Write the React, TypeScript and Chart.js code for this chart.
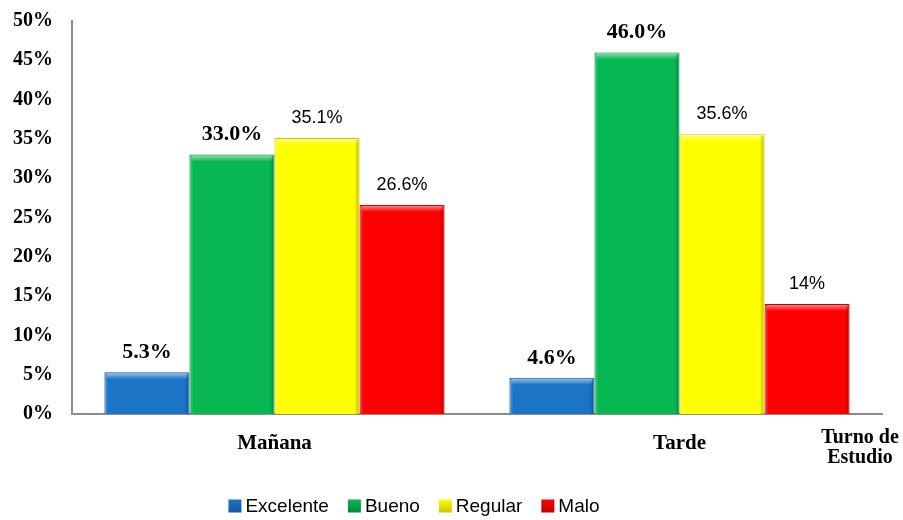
import React, { useEffect, useRef } from 'react';
import { Chart, registerables } from 'chart.js';

Chart.register(...registerables);

const categories = ['Mañana', 'Tarde'];
const seriesNames = ['Excelente', 'Bueno', 'Regular', 'Malo'];
const excelente = [5.3, 4.6];
const bueno = [33.0, 46.0];
const regular = [35.1, 35.6];
const malo = [26.6, 14];
const excelenteLabels = ['5.3%', '4.6%'];
const buenoLabels = ['33.0%', '46.0%'];
const regularLabels = ['35.1%', '35.6%'];
const maloLabels = ['26.6%', '14%'];
const axisTitleLines = ['Turno de', 'Estudio'];

const seriesColors = ['#1C74C6', '#07B852', '#FFFF00', '#FF0000'];
const seriesBorders = ['#135A9C', '#058A3C', '#C8C800', '#C00000'];
const serifFont = '"Liberation Serif", "Times New Roman", serif';
const sansFont = '"Liberation Sans", Arial, sans-serif';

const valueLabels = [excelenteLabels, buenoLabels, regularLabels, maloLabels];
const labelBold = [true, true, false, false];

const bevelPlugin = {
  id: 'bevel',
  afterDatasetsDraw(chart: any) {
    const ctx = chart.ctx;
    chart.data.datasets.forEach((ds: any, di: number) => {
      const meta = chart.getDatasetMeta(di);
      meta.data.forEach((bar: any) => {
        const { x, y, base, width } = bar.getProps(['x', 'y', 'base', 'width'], true);
        const l = x - width / 2;
        const r = x + width / 2;
        const h = base - y;
        ctx.save();
        const g = ctx.createLinearGradient(0, y, 0, y + 7);
        g.addColorStop(0, 'rgba(255,255,255,0.6)');
        g.addColorStop(1, 'rgba(255,255,255,0)');
        ctx.fillStyle = g;
        ctx.fillRect(l + 2, y + 1, width - 4, Math.min(7, h - 1));
        const gl = ctx.createLinearGradient(l, 0, l + 4, 0);
        gl.addColorStop(0, 'rgba(255,255,255,0.25)');
        gl.addColorStop(1, 'rgba(255,255,255,0)');
        ctx.fillStyle = gl;
        ctx.fillRect(l + 1, y + 2, 4, h - 2);
        const gr = ctx.createLinearGradient(r - 5, 0, r, 0);
        gr.addColorStop(0, 'rgba(0,0,0,0)');
        gr.addColorStop(1, 'rgba(0,0,0,0.28)');
        ctx.fillStyle = gr;
        ctx.fillRect(r - 5, y + 2, 4, h - 2);
        ctx.restore();
      });
    });
  },
};

const labelsPlugin = {
  id: 'valueLabels',
  afterDraw(chart: any) {
    const ctx = chart.ctx;
    ctx.save();
    ctx.fillStyle = '#000';
    ctx.textAlign = 'center';
    ctx.textBaseline = 'middle';
    chart.data.datasets.forEach((ds: any, di: number) => {
      const meta = chart.getDatasetMeta(di);
      ctx.font = labelBold[di] ? `bold 22px ${serifFont}` : `18px ${sansFont}`;
      meta.data.forEach((bar: any, i: number) => {
        ctx.fillText(valueLabels[di][i], bar.x, bar.y - 20);
      });
    });
    ctx.font = `bold 20px ${serifFont}`;
    const area = chart.chartArea;
    axisTitleLines.forEach((t, i) => {
      ctx.fillText(t, area.right - 22, area.bottom + 24 + i * 20);
    });
    ctx.font = `19px ${sansFont}`;
    ctx.textAlign = 'left';
    const box = 13;
    const gapText = 4;
    const gapItem = 19;
    const widths = seriesNames.map((n) => box + gapText + ctx.measureText(n).width);
    const total = widths.reduce((a, b) => a + b, 0) + gapItem * (widths.length - 1);
    let cx = 414 - total / 2;
    const cy = 506;
    seriesNames.forEach((n, i) => {
      const g = ctx.createLinearGradient(0, cy - box / 2, 0, cy + box / 2);
      g.addColorStop(0, seriesColors[i]);
      g.addColorStop(1, seriesBorders[i]);
      ctx.fillStyle = g;
      ctx.fillRect(cx, cy - box / 2, box, box);
      ctx.fillStyle = '#000';
      ctx.fillText(n, cx + box + gapText, cy + 1);
      cx += widths[i] + gapItem;
    });
    ctx.restore();
  },
};

export default function App() {
  const ref = useRef<HTMLCanvasElement>(null);
  useEffect(() => {
    if (!ref.current) return;
    const series = [excelente, bueno, regular, malo];
    const chart = new Chart(ref.current, {
      type: 'bar',
      data: {
        labels: categories,
        datasets: series.map((d, i) => ({
          label: seriesNames[i],
          data: d,
          backgroundColor: seriesColors[i],
          borderColor: seriesBorders[i],
          borderWidth: 1,
          categoryPercentage: 0.84,
          barPercentage: 1,
        })),
      },
      options: {
        animation: false,
        responsive: false,
        maintainAspectRatio: false,
        layout: { padding: { left: 0, right: 21, top: 21, bottom: 0 } },
        plugins: {
          legend: { display: false },
          tooltip: { enabled: false },
        },
        scales: {
          x: {
            grid: { display: false, drawTicks: false },
            border: { display: true, color: '#8c8c8c', width: 2 },
            ticks: {
              color: '#000',
              padding: 17,
              font: { family: serifFont, weight: 'bold', size: 21 },
            },
            afterFit(scale: any) {
              scale.height = 106;
              scale.paddingLeft = 0;
              scale.paddingRight = 0;
            },
          },
          y: {
            min: 0,
            max: 50,
            grid: { display: false, drawTicks: false },
            border: { display: true, color: '#8c8c8c', width: 2 },
            ticks: {
              stepSize: 5,
              color: '#000',
              padding: 19,
              font: { family: serifFont, weight: 'bold', size: 20 },
              callback: (v: any) => `${v}%`,
            },
            afterFit(scale: any) {
              scale.width = 72;
              scale.paddingTop = 0;
              scale.paddingBottom = 0;
            },
          },
        },
      },
      plugins: [bevelPlugin, labelsPlugin],
    });
    return () => chart.destroy();
  }, []);
  return (
    <div style={{ position: 'absolute', left: 0, top: 0, width: 903, height: 520, background: '#fff' }}>
      <canvas ref={ref} width={903} height={520} style={{ width: 903, height: 520 }} />
    </div>
  );
}
